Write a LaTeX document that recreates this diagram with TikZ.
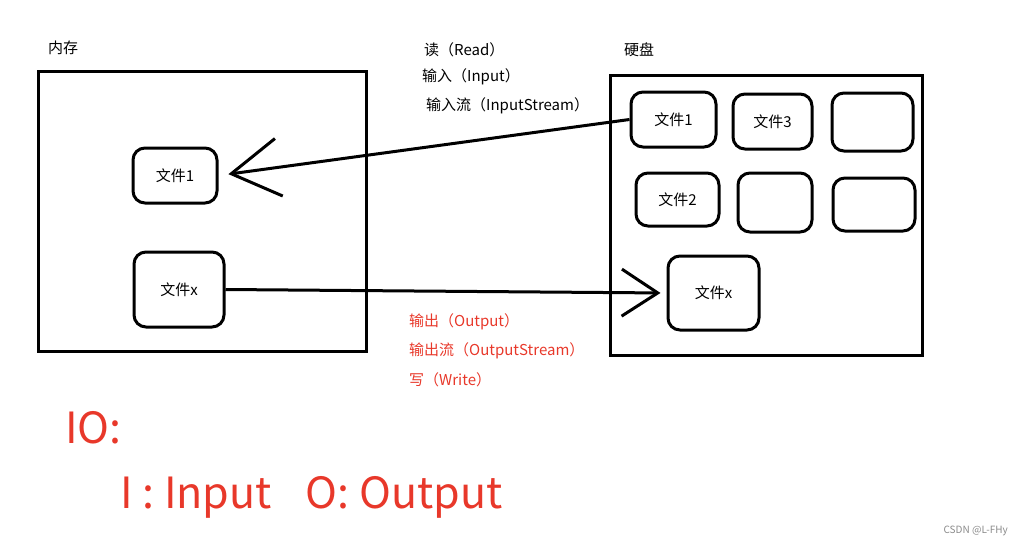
\documentclass[tikz,border=0pt]{standalone}
\usepackage{fontspec}
\setmainfont{Noto Sans CJK SC}
\usetikzlibrary{arrows.meta,positioning}
\definecolor{iored}{HTML}{E8382A}
\definecolor{markgray}{HTML}{8A8A8A}

\begin{document}
\begin{tikzpicture}[x=1pt, y=-1pt,
  storebox/.style={draw=black, line width=3pt, inner sep=0pt},
  filebox/.style={draw=black, line width=3pt, rounded corners=12pt, inner sep=0pt,
    font=\fontsize{15}{18}\selectfont},
  title/.style={anchor=west, inner sep=0pt, font=\fontsize{15}{18}\selectfont},
  rednote/.style={title, text=iored},
  bigred/.style={anchor=west, inner sep=0pt, text=iored, font=\fontsize{43}{50}\selectfont},
  readarr/.style={line width=3pt, -{Straight Barb[length=48pt, width=58pt]}, shorten >=10pt},
  writearr/.style={line width=3pt, -{Straight Barb[length=36pt, width=47pt]}, shorten >=6pt}
]
  \useasboundingbox (0,0) rectangle (1023,546);

  \node[title] (memtitle) at (48,48) {内存};
  \node[title] (disktitle) at (624,50) {硬盘};

  \node[storebox, minimum width=328pt, minimum height=280pt] (mem) at (202,211) {};
  \node[storebox, minimum width=312pt, minimum height=280pt] (disk) at (766,215) {};

  \node[filebox, minimum width=84pt, minimum height=55pt] (memf1) at (175,175.5) {文件1};
  \node[filebox, minimum width=90pt, minimum height=75pt] (memfx) at (179,289.5) {文件x};

  \node[filebox, minimum width=85pt, minimum height=55pt] (df1) at (673.5,119.5) {文件1};
  \node[filebox, minimum width=79pt, minimum height=55pt] (df3) at (772.5,121.5) {文件3};
  \node[filebox, minimum width=81pt, minimum height=58pt] (de1) at (872.5,122) {};
  \node[filebox, minimum width=83pt, minimum height=53pt] (df2) at (677.5,199.5) {文件2};
  \node[filebox, minimum width=74pt, minimum height=59pt] (de2) at (775,202.5) {};
  \node[filebox, minimum width=82pt, minimum height=53pt] (de3) at (874,204.5) {};
  \node[filebox, minimum width=91pt, minimum height=74pt] (dfx) at (713.5,293) {文件x};

  \draw[readarr] (df1.west) -- (memf1.east);
  \draw[writearr] (memfx.east) -- (dfx.west);

  \node[title] (rd) at (424,50) {读（Read）};
  \node[title] (inp) at (422,77) {输入（Input）};
  \node[title] (instream) at (426,106) {输入流（InputStream）};

  \node[rednote] (outp) at (409,322) {输出（Output）};
  \node[rednote] (outstream) at (409,351) {输出流（OutputStream）};
  \node[rednote] (wr) at (409,380) {写（Write）};

  \node[bigred] (io) at (65,428) {IO:};
  \node[bigred] (iodef) at (120,497) {I : Input\hspace{34pt}O: Output};

  \node[anchor=east, inner sep=0pt, text=markgray, font=\fontsize{10}{12}\selectfont]
    (mark) at (1008,531) {CSDN @L-FHy};
\end{tikzpicture}
\end{document}
